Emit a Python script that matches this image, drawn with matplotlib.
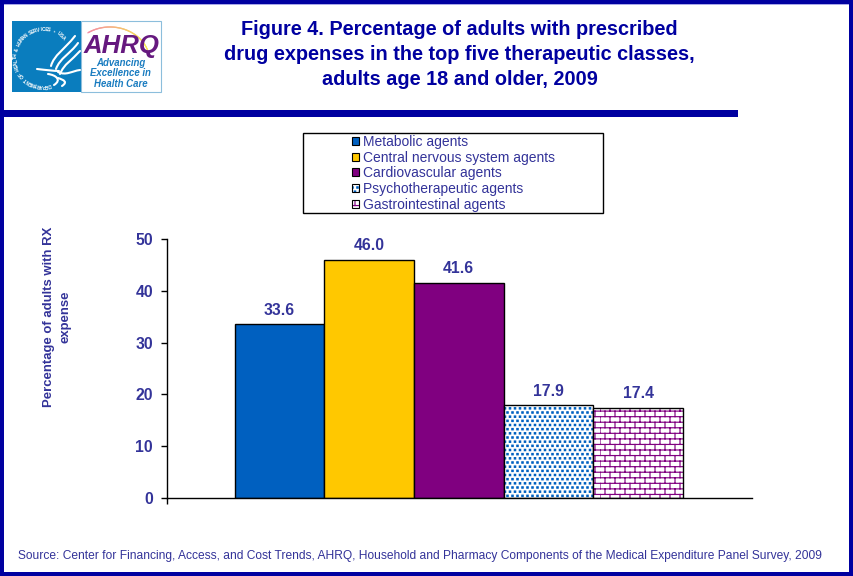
import numpy as np
import matplotlib
matplotlib.use("Agg")
import matplotlib.pyplot as plt
import matplotlib.hatch as mhatch
from matplotlib.colors import to_rgba
from matplotlib.patches import Rectangle, Patch, PathPatch
from matplotlib.path import Path

classes = ["Metabolic agents", "Central nervous system agents", "Cardiovascular agents",
           "Psychotherapeutic agents", "Gastrointestinal agents"]
percent = [33.6, 46.0, 41.6, 17.9, 17.4]
yticks = [0, 10, 20, 30, 40, 50]
title_lines = ["Figure 4. Percentage of adults with prescribed",
               "drug expenses in the top five therapeutic classes,",
               "adults age 18 and older, 2009"]
source = ("Source: Center for Financing, Access, and Cost Trends, AHRQ, Household and Pharmacy "
          "Components of the Medical Expenditure Panel Survey, 2009")

NAVY = "#0000A0"
TEXT = "#333399"
BLUE = "#0060C0"
YELLOW = "#FFC800"
PURPLE = "#800080"
W, H = 853, 576

plt.rcParams["font.family"] = ["Liberation Sans", "DejaVu Sans"]
plt.rcParams["hatch.linewidth"] = 0.85


# brick and dot fills of the last two bars, the stock hatches look nothing like them
class BrickHatch(mhatch.HatchPatternBase):
    rows = 18
    cols = 10

    def __init__(self, hatch, density):
        self.on = "+" in hatch
        self.num_vertices = 2 * (self.rows + self.rows * self.cols) if self.on else 0

    def set_vertices_and_codes(self, vertices, codes):
        segs = []
        for r in range(self.rows):
            y0, y1 = r / self.rows, (r + 1) / self.rows
            segs.append(((0, y0), (1, y0)))
            shift = 0.5 / self.cols if r % 2 else 0
            for c in range(self.cols):
                x = c / self.cols + shift
                segs.append(((x, y0), (x, y1)))
        vertices[:] = np.array(segs).reshape(-1, 2)
        codes[0::2] = Path.MOVETO
        codes[1::2] = Path.LINETO


class DotHatch(mhatch.HatchPatternBase):
    rows = 24
    cols = 20
    filled = True

    def __init__(self, hatch, density):
        self.on = "." in hatch
        self.num_vertices = 5 * self.rows * self.cols if self.on else 0

    def set_vertices_and_codes(self, vertices, codes):
        s = 0.0068
        pts = []
        for r in range(self.rows):
            shift = 0.5 / self.cols if r % 2 else 0
            for c in range(self.cols):
                x, y = c / self.cols + shift, r / self.rows
                pts += [(x - s, y - s), (x + s, y - s), (x + s, y + s), (x - s, y + s), (x - s, y - s)]
        vertices[:] = np.array(pts)
        codes[:] = Path.LINETO
        codes[0::5] = Path.MOVETO
        codes[4::5] = Path.CLOSEPOLY


mhatch._hatch_types = [BrickHatch, DotHatch]

fig = plt.figure(figsize=((W + 0.01) / 100, (H + 0.01) / 100), dpi=100, facecolor="white")

# overlay in image pixels, for the frame, logo and captions
bg = fig.add_axes([0, 0, 1, 1])
bg.set_xlim(0, W)
bg.set_ylim(H, 0)
bg.axis("off")
bg.add_patch(Rectangle((0, 0), W, 4, fc=NAVY, ec="none"))
bg.add_patch(Rectangle((0, 4), W, 1, fc="#A8A8E8", ec="none"))
bg.add_patch(Rectangle((0, H - 4), W, 4, fc=NAVY, ec="none"))
bg.add_patch(Rectangle((0, 0), 4, H, fc=NAVY, ec="none"))
bg.add_patch(Rectangle((W - 4, 0), 4, H, fc=NAVY, ec="none"))
bg.add_patch(Rectangle((0, 110), 738, 7, fc=NAVY, ec="none"))

for line, y in zip(title_lines, [29, 54, 79]):
    bg.text(459.5, y, line, color=NAVY, fontsize=14.35, fontweight="bold", ha="center", va="center")

# logo
bg.add_patch(Rectangle((12, 21), 69, 71, fc="#0A7DBE", ec="none"))
bg.add_patch(Rectangle((81, 21), 80, 71, fc="white", ec="#8CBEDC", lw=0.8))
seal = "DEPARTMENT OF HEALTH & HUMAN SERVICES \u2022 USA"
for ch, a in zip(seal, np.linspace(282, 45, len(seal))):
    t = np.deg2rad(a)
    bg.text(43.5 + 28 * np.cos(t), 57.5 - 28 * np.sin(t), ch, color="white", fontsize=3.5,
            fontweight="bold", ha="center", va="center", rotation=a - 90)
wing_strokes = [
    [(51, 66), (54, 55), (64, 50), (75, 36)],
    [(56, 69), (60, 58), (70, 54), (78, 43)],
    [(60, 74), (64, 64), (72, 60), (80, 51)],
    [(37, 69), (46, 70), (54, 71), (59, 71)],
    [(58, 72), (66, 76), (72, 71), (80, 70)],
    [(48, 74), (56, 75), (62, 80), (54, 85)],
    [(58, 78), (64, 80), (68, 82), (62, 86)],
]
for stroke in wing_strokes:
    bg.add_patch(PathPatch(Path(stroke, [Path.MOVETO, Path.CURVE4, Path.CURVE4, Path.CURVE4]),
                           fc="none", ec="white", lw=1.5, capstyle="round"))
arc_x = np.arange(88, 149)
arc_y = 62 - 35 * np.sqrt(1 - ((arc_x - 110) / 40) ** 2)
for i in range(len(arc_x) - 1):
    f = i / (len(arc_x) - 2)
    bg.plot(arc_x[i:i + 2], arc_y[i:i + 2], color=(0.96, 0.55 + 0.35 * f, 0.65 - 0.35 * f), lw=0.9)
bg.text(121, 46, "AHRQ", color="#66197F", fontsize=18.5, fontweight="bold", style="italic",
        ha="center", va="center")
for line, y in zip(["Advancing", "Excellence in", "Health Care"], [63, 73, 84]):
    bg.text(120.5, y, line, color="#1A7CC0", fontsize=6.9, fontweight="bold", style="italic",
            ha="center", va="center")

# axis title sits well left of the tick labels
bg.text(48.5, 316.5, "Percentage of adults with RX", color=TEXT, fontsize=9.45, fontweight="bold",
        rotation=90, ha="center", va="center")
bg.text(65, 316.5, "expense", color=TEXT, fontsize=9.45, fontweight="bold",
        rotation=90, ha="center", va="center")
bg.text(18, 556, source, color=TEXT, fontsize=8.64, ha="left", va="center")

# legend box
bg.add_patch(Rectangle((303, 133.5), 300, 80, fc="white", ec="black", lw=1))

# chart
left, right, top, bottom = 167, 752, 239, 498
ax = fig.add_axes([left / W, 1 - bottom / H, (right - left) / W, (bottom - top) / H])
ax.patch.set_alpha(0)
bar_w = 89.7
first_bar = 234.5
pos = np.arange(len(percent))
ax.set_xlim(-0.5 - (first_bar - left) / bar_w, -0.5 + (right - first_bar) / bar_w)
ax.set_ylim(0, 50)
faces = [BLUE, YELLOW, PURPLE, "white", "white"]
hatches = [None, None, None, ".", "+"]
hatch_cols = [None, None, None, BLUE, PURPLE]
bars = ax.bar(pos, percent, width=1.0, color=faces, edgecolor="black", linewidth=1)
for b, h, c in zip(bars, hatches, hatch_cols):
    if h:
        b.set_hatch(h)
        b._hatch_color = to_rgba(c)
for b, v in zip(bars, percent):
    ax.annotate(f"{v:.1f}", (b.get_x() + b.get_width() / 2, v), xytext=(0, 10),
                textcoords="offset points", ha="center", va="center",
                color=TEXT, fontsize=11.3, fontweight="bold")
ax.spines[["top", "right"]].set_visible(False)
ax.spines[["left", "bottom"]].set_linewidth(1)
ax.set_yticks(yticks)
ax.set_xticks([ax.get_xlim()[0]])
ax.set_xticklabels([])
ax.tick_params(length=4, width=1, pad=6)
ax.tick_params(axis="y", labelsize=11.3, labelcolor=TEXT)
for lab in ax.get_yticklabels():
    lab.set_fontweight("bold")

handles = []
for f, h, c in zip(faces, hatches, hatch_cols):
    p = Patch(facecolor=f, edgecolor="black", linewidth=0.8, hatch=h)
    if h:
        p._hatch_color = to_rgba(c)
    handles.append(p)
fig.legend(handles, classes, loc="upper left", bbox_to_anchor=(352 / W, 1 - 135 / H),
           frameon=False, fontsize=10, labelcolor=TEXT, handlelength=0.5, handleheight=0.5,
           handletextpad=0.3, labelspacing=0.12, borderpad=0, borderaxespad=0)

fig.savefig("out.png", dpi=100)
